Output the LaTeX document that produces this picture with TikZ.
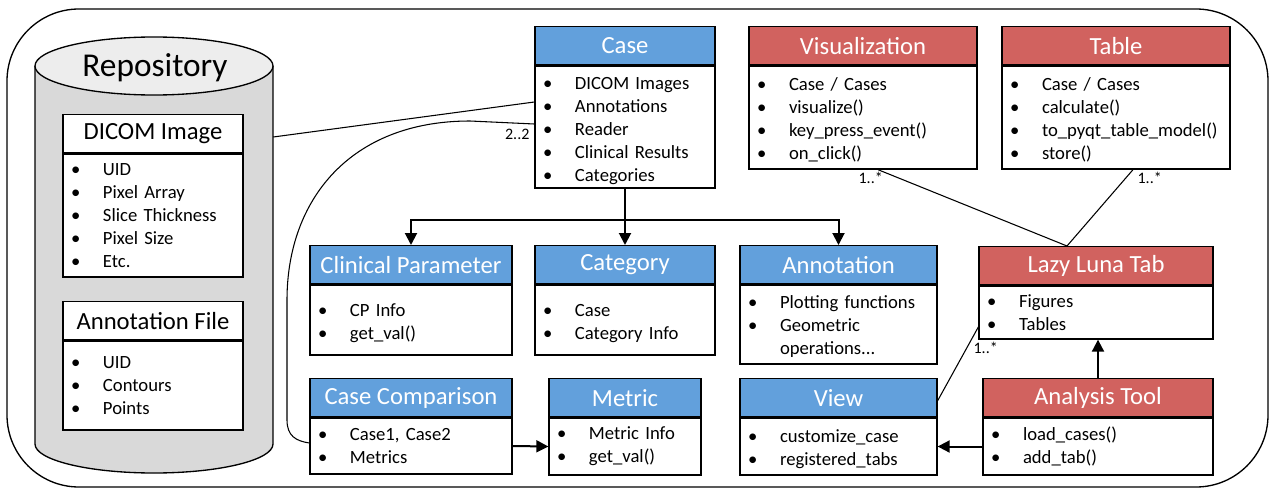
\documentclass[tikz,border=0pt]{standalone}
\usepackage{fontspec}
\setmainfont{Carlito}
\usetikzlibrary{arrows.meta,calc}
\newlength\pxu \setlength\pxu{0.75pt}
\definecolor{hblue}{RGB}{98,160,220}
\definecolor{hred}{RGB}{209,98,95}
\definecolor{cylbody}{RGB}{217,217,217}
\definecolor{cyltop}{RGB}{237,237,237}
\newcommand{\itm}[1]{\makebox[32\pxu][l]{\textbullet}#1}
\newcommand{\tg}{\rule{0pt}{13.5pt}}
\newcommand{\tgg}{\rule{0pt}{15pt}}
\begin{document}
\begin{tikzpicture}[x=0.75pt,y=-0.75pt,
  hdr/.style={draw=black, line width=1pt, fill=#1, text=white, font=\fontsize{18.5}{21}\selectfont, minimum height=38\pxu, inner sep=0pt, anchor=north},
  hdrw/.style={draw=black, line width=1pt, fill=white, text=black, font=\fontsize{18.5}{21}\selectfont, minimum height=38\pxu, inner sep=0pt, anchor=north},
  bodyb/.style 2 args={draw=black, line width=1pt, fill=white, font=\fontsize{14}{17.25}\selectfont, minimum width=#1\pxu, minimum height=#2\pxu, text width={(#1-16)*\pxu}, inner xsep=8\pxu, inner ysep=0pt, align=left, anchor=north},
  conn/.style={draw=black, line width=0.8pt},
  thk/.style={draw=black, line width=1.5pt},
  arr/.style={thk, -{Triangle[length=9pt,width=9pt]}},
  lbl/.style={font=\fontsize{12}{14}\selectfont, inner sep=1pt}
]
\useasboundingbox (0,0) rectangle (1272,489);
% outer frame
\draw[line width=1pt, rounded corners=54pt] (7,9) rectangle (1268,487);

% repository cylinder
\fill[cylbody] (154,444) ellipse [x radius=119, y radius=29];
\fill[cylbody] (35,66) rectangle (273,444);
\draw[line width=1pt] (35,66) -- (35,444) arc[start angle=180, end angle=0, x radius=119, y radius=29] -- (273,66);
\filldraw[line width=1pt, fill=cyltop] (154,66) ellipse [x radius=119, y radius=29];
\node[font=\fontsize{25}{29}\selectfont, inner sep=0pt] (repot) at (155,68) {Repository};
\node[inner sep=0pt, minimum width=238\pxu, minimum height=378\pxu] (repo) at (154,255) {};

% DICOM Image
\node[hdrw, minimum width=180\pxu] (dih) at (153,114) {DICOM Image};
\node[bodyb={180}{123}] (dib) at (dih.south) {\itm{UID}\\ \itm{Pixel Array}\\ \itm{Slice Thickness}\\ \itm{Pixel Size}\\ \itm{Etc.}};
% Annotation File
\node[hdrw, minimum width=180\pxu] (afh) at (153,301) {Annotation File};
\node[bodyb={180}{89}] (afb) at (afh.south) {\itm{UID}\\ \itm{Contours}\\ \itm{Points}};

% Case
\node[hdr=hblue, minimum width=180\pxu] (caseh) at (625,26) {Case};
\node[bodyb={180}{122}] (caseb) at (caseh.south) {\tgg\itm{DICOM Images}\\ \itm{Annotations}\\ \itm{Reader}\\ \itm{Clinical Results}\\ \itm{Categories}};
% Visualization
\node[hdr=hred, minimum width=228\pxu] (vish) at (863,26) {Visualization};
\node[bodyb={228}{103}] (visb) at (vish.south) {\tg\itm{Case / Cases}\\ \itm{visualize()}\\ \itm{key\_press\_event()}\\ \itm{on\_click()}};
% Table
\node[hdr=hred, minimum width=228\pxu] (tabh) at (1116,26) {Table};
\node[bodyb={228}{103}] (tabb) at (tabh.south) {\tg\itm{Case / Cases}\\ \itm{calculate()}\\ \itm{to\_pyqt\_table\_model()}\\ \itm{store()}};

% Clinical Parameter
\node[hdr=hblue, minimum width=202\pxu] (cph) at (411,245) {Clinical Parameter};
\node[bodyb={202}{70}] (cpb) at (cph.south) {\tgg\itm{CP Info}\\ \itm{get\_val()}};
% Category
\node[hdr=hblue, minimum width=180\pxu] (cath) at (625,245) {Category};
\node[bodyb={180}{70}] (catb) at (cath.south) {\tgg\itm{Case}\\ \itm{Category Info}};
% Annotation
\node[hdr=hblue, minimum width=197\pxu] (anh) at (838.5,245) {Annotation};
\node[bodyb={197}{79}] (anb) at (anh.south) {\tg\itm{Plotting functions}\\ \itm{Geometric}\\ \hspace*{32\pxu}operations...};
% Lazy Luna Tab
\node[hdr=hred, minimum width=234\pxu] (llth) at (1096,246) {Lazy Luna Tab};
\node[bodyb={234}{53}] (lltb) at (llth.south) {\itm{Figures}\\ \itm{Tables}};

% Case Comparison
\node[hdr=hblue, minimum width=202\pxu] (cch) at (411,378) {Case Comparison};
\node[bodyb={202}{56}] (ccb) at (cch.south) {\itm{Case1, Case2}\\ \itm{Metrics}};
% Metric
\node[hdr=hblue, minimum width=152\pxu] (meth) at (625,378) {Metric};
\node[bodyb={152}{57}] (metb) at (meth.south) {\itm{Metric Info}\\ \itm{get\_val()}};
% View
\node[hdr=hblue, minimum width=197\pxu] (viewh) at (838.5,378) {View};
\node[bodyb={197}{57}] (viewb) at (viewh.south) {\tg\itm{customize\_case}\\ \itm{registered\_tabs}};
% Analysis Tool
\node[hdr=hred, minimum width=230\pxu] (ath) at (1098,378) {Analysis Tool};
\node[bodyb={230}{57}] (atb) at (ath.south) {\itm{load\_cases()}\\ \itm{add\_tab()}};

% connectors
\draw[conn] ([yshift=118\pxu]repo.east) -- ([yshift=25\pxu]caseb.west);
\draw[conn] ([yshift=3\pxu]caseb.west) -- (470,121) .. controls (350,121) and (287,200) .. (287,300) -- (287,420) .. controls (287,436) and (296,441) .. ([yshift=3\pxu]ccb.west);
\node[lbl, anchor=east] (l22) at (531,134) {2..2};

\draw[thk] (caseb.south) -- ++(0,31) coordinate (split);
\draw[arr] (split) -| (cph.north);
\draw[arr] (split) -| (anh.north);
\draw[arr] (split) -- (cath.north);

\draw[arr] (ccb.east) -- (metb.west);
\draw[arr] (atb.west) -- (atb.west -| viewb.east);
\draw[arr] (ath.north) -- (ath.north |- lltb.south);

\draw[conn] ([xshift=15\pxu]visb.south) -- ([xshift=-29\pxu]llth.north);
\draw[conn] ([xshift=17\pxu]tabb.south) -- ([xshift=-29\pxu]llth.north);
\draw[conn] ([yshift=-3\pxu]viewh.east) -- ([yshift=-14.5\pxu]lltb.west);
\node[lbl, anchor=west] (l1) at (857,178) {1..*};
\node[lbl, anchor=west] (l2) at (1136,178) {1..*};
\node[lbl, anchor=west] (l3) at (972,348) {1..*};
\end{tikzpicture}
\end{document}
